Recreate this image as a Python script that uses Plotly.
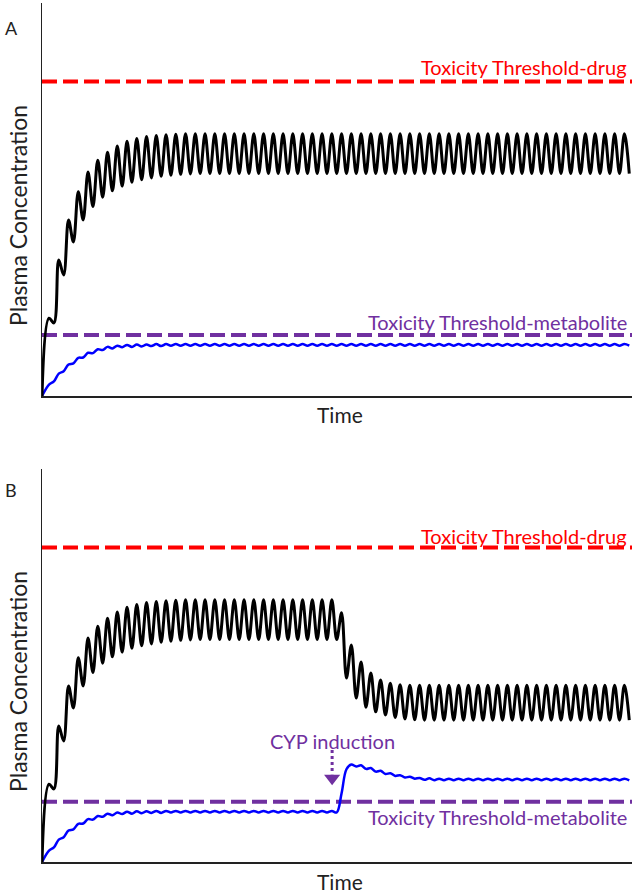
import plotly.graph_objects as go

# ---------------- data ----------------
dose_number = list(range(1, 61))

drug_A_peak = [19.8, 34.6, 44.8, 52.0, 57.0, 60.0, 62.0, 63.6, 64.8, 65.5,
               66.0, 66.3, 66.5, 66.6, 66.7, 66.7, 66.7, 66.7, 66.7, 66.7,
               66.7, 66.7, 66.7, 66.7, 66.7, 66.7, 66.7, 66.7, 66.7, 66.7,
               66.7, 66.7, 66.7, 66.7, 66.7, 66.7, 66.7, 66.7, 66.7, 66.7,
               66.7, 66.7, 66.7, 66.7, 66.7, 66.7, 66.7, 66.7, 66.7, 66.7,
               66.7, 66.7, 66.7, 66.7, 66.7, 66.7, 66.7, 66.7, 66.7, 66.7]
drug_A_trough = [18.6, 30.8, 39.2, 44.8, 48.2, 50.6, 52.2, 53.4, 54.4, 55.0,
                 55.5, 55.9, 56.2, 56.4, 56.5, 56.6, 56.6, 56.6, 56.6, 56.6,
                 56.6, 56.6, 56.6, 56.6, 56.6, 56.6, 56.6, 56.6, 56.6, 56.6,
                 56.6, 56.6, 56.6, 56.6, 56.6, 56.6, 56.6, 56.6, 56.6, 56.6,
                 56.6, 56.6, 56.6, 56.6, 56.6, 56.6, 56.6, 56.6, 56.6, 56.6,
                 56.6, 56.6, 56.6, 56.6, 56.6, 56.6, 56.6, 56.6, 56.6, 56.6]

metab_A_peak = [2.9, 5.7, 8.0, 9.7, 11.0, 11.9, 12.5, 12.8, 13.0, 13.1,
                13.1, 13.2, 13.2, 13.2, 13.2, 13.2, 13.2, 13.2, 13.2, 13.2,
                13.2, 13.2, 13.2, 13.2, 13.2, 13.2, 13.2, 13.2, 13.2, 13.2,
                13.2, 13.2, 13.2, 13.2, 13.2, 13.2, 13.2, 13.2, 13.2, 13.2,
                13.2, 13.2, 13.2, 13.2, 13.2, 13.2, 13.2, 13.2, 13.2, 13.2,
                13.2, 13.2, 13.2, 13.2, 13.2, 13.2, 13.2, 13.2, 13.2, 13.2]
metab_A_trough = [3.7, 6.3, 8.3, 9.8, 10.9, 11.7, 12.1, 12.4, 12.5, 12.6,
                  12.7, 12.7, 12.8, 12.8, 12.8, 12.8, 12.8, 12.8, 12.8, 12.8,
                  12.8, 12.8, 12.8, 12.8, 12.8, 12.8, 12.8, 12.8, 12.8, 12.8,
                  12.8, 12.8, 12.8, 12.8, 12.8, 12.8, 12.8, 12.8, 12.8, 12.8,
                  12.8, 12.8, 12.8, 12.8, 12.8, 12.8, 12.8, 12.8, 12.8, 12.8,
                  12.8, 12.8, 12.8, 12.8, 12.8, 12.8, 12.8, 12.8, 12.8, 12.8]

drug_B_peak = [19.8, 34.6, 44.8, 52.0, 57.0, 60.0, 62.0, 63.6, 64.8, 65.5,
               66.0, 66.3, 66.5, 66.6, 66.7, 66.7, 66.7, 66.7, 66.7, 66.7,
               66.7, 66.7, 66.7, 66.7, 66.7, 66.7, 66.7, 66.7, 66.7, 66.7,
               63.4, 55.2, 50.9, 48.1, 46.3, 45.5, 45.1, 45.0, 45.0, 45.0,
               45.0, 45.0, 45.0, 45.0, 45.0, 45.0, 45.0, 45.0, 45.0, 45.0,
               45.0, 45.0, 45.0, 45.0, 45.0, 45.0, 45.0, 45.0, 45.0, 45.0]
drug_B_trough = [18.6, 30.8, 39.2, 44.8, 48.2, 50.6, 52.2, 53.4, 54.4, 55.0,
                 55.5, 55.9, 56.2, 56.4, 56.5, 56.6, 56.6, 56.6, 56.6, 56.6,
                 56.6, 56.6, 56.6, 56.6, 56.6, 56.6, 56.6, 56.6, 56.6, 56.6,
                 46.8, 41.7, 39.4, 38.2, 37.4, 36.8, 36.4, 36.2, 36.1, 36.1,
                 36.1, 36.1, 36.1, 36.1, 36.1, 36.1, 36.1, 36.1, 36.1, 36.1,
                 36.1, 36.1, 36.1, 36.1, 36.1, 36.1, 36.1, 36.1, 36.1, 36.1]

metab_B_peak = [2.9, 5.7, 8.0, 9.7, 10.9, 11.7, 12.3, 12.6, 12.8, 12.9,
                12.9, 13.0, 13.0, 13.0, 13.0, 13.0, 13.0, 13.0, 13.0, 13.0,
                13.0, 13.0, 13.0, 13.0, 13.0, 13.0, 13.0, 13.0, 13.0, 13.0,
                17.5, 24.8, 24.6, 23.9, 23.2, 22.6, 22.1, 21.7, 21.4, 21.3,
                21.2, 21.2, 21.2, 21.2, 21.2, 21.2, 21.2, 21.2, 21.2, 21.2,
                21.2, 21.2, 21.2, 21.2, 21.2, 21.2, 21.2, 21.2, 21.2, 21.2]
metab_B_trough = [3.7, 6.3, 8.3, 9.8, 10.8, 11.5, 11.9, 12.2, 12.3, 12.4,
                  12.5, 12.5, 12.6, 12.6, 12.6, 12.6, 12.6, 12.6, 12.6, 12.6,
                  12.6, 12.6, 12.6, 12.6, 12.6, 12.6, 12.6, 12.6, 12.6, 12.6,
                  23.6, 24.3, 23.7, 23.0, 22.4, 21.9, 21.5, 21.2, 20.9, 20.8,
                  20.8, 20.8, 20.8, 20.8, 20.8, 20.8, 20.8, 20.8, 20.8, 20.8,
                  20.8, 20.8, 20.8, 20.8, 20.8, 20.8, 20.8, 20.8, 20.8, 20.8]

threshold_drug = 80.0
threshold_metab_A = 15.5
threshold_metab_B = 15.3
induction_dose = 29.75
arrow_top = 28.5
arrow_tip = 19.8

# ---------------- layout helpers ----------------
W, H = 638, 896
ML, MR, MT, MB = 42, 6, 3, 34
PW, PH = W - ML - MR, H - MT - MB
XMAX = 60.5

def px(x):
    return (x - ML) / PW

def py(y):
    return (H - MB - y) / PH

def zigzag(peaks, troughs):
    xs, ys = [0.0], [0.0]
    for d, p, t in zip(dose_number, peaks, troughs):
        xs += [d - 0.28, d + 0.22]
        ys += [p, t]
    return xs, ys

FONT = "Lato"
BLACK = "#000000"
BLUE = "#0000FF"
RED = "#FF0000"
PURPLE = "#7030A0"
TEXT = "#222222"

fig = go.Figure()

panels = [
    ("x", "y", drug_A_peak, drug_A_trough, metab_A_peak, metab_A_trough, threshold_metab_A),
    ("x2", "y2", drug_B_peak, drug_B_trough, metab_B_peak, metab_B_trough, threshold_metab_B),
]
for xa, ya, dp, dt, mp, mt, thm in panels:
    fig.add_trace(go.Scatter(x=[0, XMAX], y=[threshold_drug, threshold_drug], mode="lines",
                             line=dict(color=RED, width=4, dash="15px,6px"),
                             xaxis=xa, yaxis=ya, showlegend=False, hoverinfo="skip"))
    fig.add_trace(go.Scatter(x=[0, XMAX], y=[thm, thm], mode="lines",
                             line=dict(color=PURPLE, width=4, dash="15px,6px"),
                             xaxis=xa, yaxis=ya, showlegend=False, hoverinfo="skip"))
    bx, by = zigzag(mp, mt)
    fig.add_trace(go.Scatter(x=bx, y=by, mode="lines",
                             line=dict(color=BLUE, width=2.5, shape="spline", smoothing=1.0),
                             xaxis=xa, yaxis=ya, showlegend=False, hoverinfo="skip"))
    kx, ky = zigzag(dp, dt)
    fig.add_trace(go.Scatter(x=kx, y=ky, mode="lines",
                             line=dict(color=BLACK, width=3, shape="spline", smoothing=1.0),
                             xaxis=xa, yaxis=ya, showlegend=False, hoverinfo="skip"))

# CYP induction arrow (dotted shaft + head)
fig.add_trace(go.Scatter(x=[induction_dose, induction_dose], y=[arrow_top, arrow_tip + 2.5],
                         mode="lines", line=dict(color=PURPLE, width=3, dash="dot"),
                         xaxis="x2", yaxis="y2", showlegend=False, hoverinfo="skip"))
fig.add_trace(go.Scatter(x=[induction_dose], y=[arrow_tip + 1.5], mode="markers",
                         marker=dict(symbol="triangle-down", size=14, color=PURPLE),
                         xaxis="x2", yaxis="y2", showlegend=False, hoverinfo="skip"))

axis_common = dict(range=[0, XMAX], showline=True, linecolor=TEXT, linewidth=1.5,
                   showgrid=False, zeroline=False, showticklabels=False, ticks="")
yaxis_common = dict(range=[0, 100], showline=True, linecolor=TEXT, linewidth=1.5,
                    showgrid=False, zeroline=False, showticklabels=False, ticks="")

fig.update_layout(
    width=W, height=H, autosize=False,
    margin=dict(l=ML, r=MR, t=MT, b=MB),
    paper_bgcolor="white", plot_bgcolor="white",
    xaxis=dict(domain=[0, 1], anchor="y", **axis_common),
    yaxis=dict(domain=[py(396), 1.0], anchor="x", **yaxis_common),
    xaxis2=dict(domain=[0, 1], anchor="y2", **axis_common),
    yaxis2=dict(domain=[0.0, py(469)], anchor="x2", **yaxis_common),
    font=dict(family=FONT, color=TEXT),
)

ann = []
def text(s, x, y, size, color=TEXT, xanchor="center", yanchor="middle", angle=0):
    ann.append(dict(text=s, x=x, y=y, xref="paper", yref="paper", showarrow=False,
                    font=dict(family=FONT, size=size, color=color),
                    xanchor=xanchor, yanchor=yanchor, textangle=angle))

text("A", px(11), py(28), 18)
text("B", px(11), py(490), 18)
text("Plasma Concentration", px(18), py(216), 23, angle=-90)
text("Plasma Concentration", px(18), py(682), 23, angle=-90)
text("Time", px(340), py(414), 21)
text("Time", px(340), py(881), 21)
text("Toxicity Threshold-drug", px(629), py(67), 20, color=RED, xanchor="right")
text("Toxicity Threshold-drug", px(629), py(536), 20, color=RED, xanchor="right")
text("Toxicity Threshold-metabolite", px(629), py(322), 20, color=PURPLE, xanchor="right")
text("Toxicity Threshold-metabolite", px(629), py(817), 20, color=PURPLE, xanchor="right")
text("CYP induction", px(332), py(741), 20, color=PURPLE)
fig.update_layout(annotations=ann)

fig.write_html("out.html",
               config={"displayModeBar": False, "staticPlot": True},
               post_script="document.body.style.margin='0px';document.body.style.padding='0px';")
